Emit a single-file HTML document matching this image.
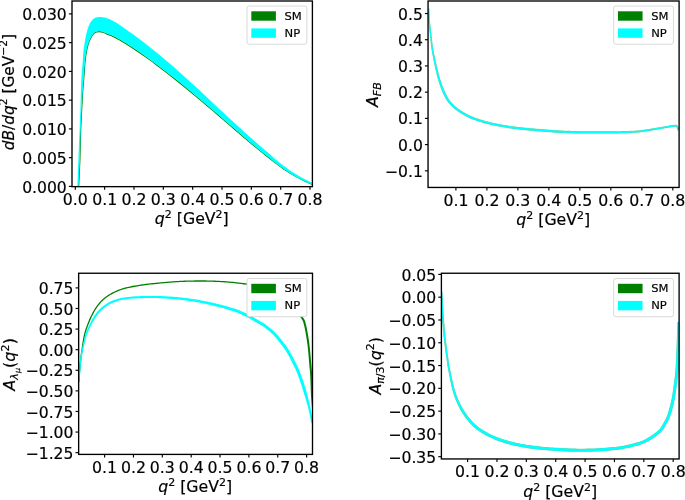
<!DOCTYPE html>
<html><head><meta charset="utf-8"><title>plots</title>
<style>html,body{margin:0;padding:0;background:#fff}svg{display:block;will-change:transform}text{stroke:#000;stroke-width:0.18px}</style>
</head><body>
<svg width="685" height="500" viewBox="0 0 685 500" font-family='"DejaVu Sans", "Liberation Sans", sans-serif' fill="#000">
<rect width="685" height="500" fill="#fff"/>
<defs>
<clipPath id="cTL"><rect x="72.00" y="1.00" width="240.40" height="185.65"/></clipPath>
<clipPath id="cTR"><rect x="428.05" y="1.00" width="251.05" height="186.45"/></clipPath>
<clipPath id="cBL"><rect x="78.65" y="273.25" width="233.85" height="181.15"/></clipPath>
<clipPath id="cBR"><rect x="441.40" y="273.25" width="237.70" height="185.70"/></clipPath>
</defs>
<g clip-path="url(#cTL)">
<path d="M78.70 186.41 C78.90 182.01 79.57 169.42 79.90 160.02 C80.23 150.62 80.40 138.36 80.70 130.03 C81.00 121.70 81.37 116.37 81.70 110.04 C82.03 103.71 82.33 97.54 82.70 92.04 C83.07 86.55 83.52 82.05 83.90 77.05 C84.28 72.06 84.67 65.76 85.00 62.06 C85.33 58.36 85.57 57.07 85.90 54.87 C86.23 52.67 86.62 50.67 87.00 48.88 C87.38 47.08 87.70 45.63 88.20 44.09 C88.70 42.54 89.38 40.95 90.00 39.60 C90.62 38.25 91.23 37.01 91.90 35.97 C92.57 34.92 93.25 34.00 94.00 33.34 C94.75 32.68 95.50 32.31 96.40 32.02 C97.30 31.74 98.30 31.58 99.40 31.63 C100.50 31.68 101.70 31.93 103.00 32.35 C104.30 32.77 105.70 33.54 107.20 34.14 C108.70 34.74 110.53 35.29 112.00 35.94 C113.47 36.59 113.67 36.73 116.00 38.03 C118.33 39.34 122.67 41.75 126.00 43.78 C129.33 45.80 132.67 47.98 136.00 50.21 C139.33 52.44 142.67 54.77 146.00 57.16 C149.33 59.55 152.67 62.05 156.00 64.55 C159.33 67.05 162.67 69.59 166.00 72.16 C169.33 74.73 172.67 77.35 176.00 79.99 C179.33 82.64 182.67 85.33 186.00 88.05 C189.33 90.77 192.67 93.54 196.00 96.32 C199.33 99.10 202.67 101.91 206.00 104.73 C209.33 107.56 212.67 110.41 216.00 113.26 C219.33 116.12 222.67 119.00 226.00 121.87 C229.33 124.74 232.67 127.62 236.00 130.48 C239.33 133.33 242.67 136.20 246.00 139.01 C249.33 141.83 252.67 144.63 256.00 147.37 C259.33 150.12 262.67 152.85 266.00 155.50 C269.33 158.15 272.67 160.76 276.00 163.25 C279.33 165.75 282.67 168.24 286.00 170.46 C289.33 172.69 292.67 174.75 296.00 176.62 C299.33 178.49 303.27 180.38 306.00 181.68 C308.73 182.97 311.33 183.93 312.40 184.38" fill="none" stroke="#008000" stroke-width="1.1"/>
<path d="M77.40 186.40 C77.57 182.00 78.03 169.40 78.40 160.00 C78.77 150.60 79.27 138.33 79.60 130.00 C79.93 121.67 80.18 116.33 80.40 110.00 C80.62 103.67 80.72 97.50 80.90 92.00 C81.08 86.50 81.20 82.00 81.50 77.00 C81.80 72.00 82.40 66.00 82.70 62.00 C83.00 58.00 83.08 55.50 83.30 53.00 C83.52 50.50 83.73 49.00 84.00 47.00 C84.27 45.00 84.55 43.00 84.90 41.00 C85.25 39.00 85.73 36.67 86.10 35.00 C86.47 33.33 86.63 32.57 87.10 31.00 C87.57 29.43 88.15 27.30 88.90 25.60 C89.65 23.90 90.55 22.10 91.60 20.80 C92.65 19.50 93.80 18.45 95.20 17.80 C96.60 17.15 98.40 16.95 100.00 16.90 C101.60 16.85 103.20 17.10 104.80 17.50 C106.40 17.90 107.73 18.45 109.60 19.30 C111.47 20.15 113.60 21.16 116.00 22.60 C118.40 24.04 121.00 25.86 124.00 27.93 C127.00 30.00 130.67 32.60 134.00 35.04 C137.33 37.48 140.67 40.00 144.00 42.57 C147.33 45.13 150.67 47.73 154.00 50.42 C157.33 53.11 160.67 55.88 164.00 58.71 C167.33 61.53 170.67 64.43 174.00 67.36 C177.33 70.29 180.67 73.27 184.00 76.26 C187.33 79.26 190.67 82.27 194.00 85.31 C197.33 88.36 200.67 91.46 204.00 94.56 C207.33 97.66 210.67 100.80 214.00 103.92 C217.33 107.03 220.67 110.17 224.00 113.27 C227.33 116.37 230.67 119.45 234.00 122.52 C237.33 125.58 240.67 128.64 244.00 131.64 C247.33 134.65 250.67 137.62 254.00 140.57 C257.33 143.51 260.67 146.44 264.00 149.32 C267.33 152.21 270.67 155.11 274.00 157.88 C277.33 160.65 280.67 163.43 284.00 165.95 C287.33 168.46 290.67 170.86 294.00 172.97 C297.33 175.09 300.93 177.00 304.00 178.63 C307.07 180.27 311.00 182.07 312.40 182.76 L312.40 184.78 C311.33 184.32 308.73 183.34 306.00 182.03 C303.27 180.71 299.33 178.79 296.00 176.89 C292.67 175.00 289.33 172.91 286.00 170.66 C282.67 168.41 279.33 165.89 276.00 163.38 C272.67 160.86 269.33 158.22 266.00 155.55 C262.67 152.88 259.33 150.12 256.00 147.35 C252.67 144.58 249.33 141.77 246.00 138.93 C242.67 136.09 239.33 133.21 236.00 130.34 C232.67 127.46 229.33 124.56 226.00 121.67 C222.67 118.78 219.33 115.88 216.00 113.00 C212.67 110.13 209.33 107.26 206.00 104.42 C202.67 101.58 199.33 98.75 196.00 95.96 C192.67 93.18 189.33 90.41 186.00 87.69 C182.67 84.96 179.33 82.27 176.00 79.62 C172.67 76.97 169.33 74.35 166.00 71.78 C162.67 69.20 159.33 66.66 156.00 64.16 C152.67 61.66 149.33 59.15 146.00 56.76 C142.67 54.37 139.33 52.03 136.00 49.80 C132.67 47.56 129.33 45.38 126.00 43.35 C122.67 41.32 118.33 38.91 116.00 37.60 C113.67 36.29 113.47 36.15 112.00 35.50 C110.53 34.85 108.70 34.30 107.20 33.70 C105.70 33.10 104.30 32.32 103.00 31.90 C101.70 31.48 100.50 31.23 99.40 31.20 C98.30 31.17 97.30 31.38 96.40 31.70 C95.50 32.02 94.75 32.42 94.00 33.10 C93.25 33.78 92.57 34.73 91.90 35.80 C91.23 36.87 90.62 38.13 90.00 39.50 C89.38 40.87 88.70 42.45 88.20 44.00 C87.70 45.55 87.38 47.00 87.00 48.80 C86.62 50.60 86.23 52.60 85.90 54.80 C85.57 57.00 85.33 58.30 85.00 62.00 C84.67 65.70 84.28 72.00 83.90 77.00 C83.52 82.00 83.07 86.50 82.70 92.00 C82.33 97.50 82.03 103.67 81.70 110.00 C81.37 116.33 81.00 121.67 80.70 130.00 C80.40 138.33 80.23 150.60 79.90 160.00 C79.57 169.40 78.90 182.00 78.70 186.40 Z" fill="#00ffff"/>
</g>
<g clip-path="url(#cTR)">
<path d="M427.68 8.64 L427.72 9.53 L427.77 10.72 L427.84 12.14 L427.91 13.71 L427.99 15.37 L428.08 17.03 L428.18 18.62 L428.28 20.06 L428.39 21.39 L428.51 22.68 L428.64 23.94 L428.77 25.18 L428.91 26.41 L429.05 27.63 L429.19 28.85 L429.33 30.09 L429.47 31.35 L429.60 32.64 L429.75 33.93 L429.89 35.22 L430.03 36.49 L430.16 37.73 L430.30 38.94 L430.43 40.09 L430.54 41.19 L430.65 42.23 L430.75 43.23 L430.85 44.21 L430.95 45.17 L431.06 46.14 L431.19 47.12 L431.32 48.13 L431.47 49.14 L431.63 50.12 L431.79 51.09 L431.96 52.07 L432.14 53.07 L432.33 54.11 L432.54 55.21 L432.77 56.39 L433.01 57.65 L433.28 58.99 L433.56 60.38 L433.85 61.82 L434.15 63.28 L434.46 64.75 L434.77 66.21 L435.09 67.63 L435.40 69.04 L435.72 70.44 L436.03 71.85 L436.36 73.25 L436.69 74.67 L437.05 76.08 L437.42 77.50 L437.82 78.92 L438.24 80.34 L438.68 81.78 L439.14 83.22 L439.62 84.67 L440.11 86.10 L440.62 87.52 L441.14 88.91 L441.68 90.26 L442.23 91.59 L442.80 92.91 L443.38 94.21 L443.98 95.50 L444.61 96.75 L445.26 97.97 L445.94 99.15 L446.66 100.29 L447.40 101.37 L448.17 102.40 L448.97 103.38 L449.79 104.32 L450.62 105.22 L451.46 106.08 L452.30 106.91 L453.15 107.72 L454.01 108.49 L454.86 109.21 L455.72 109.90 L456.60 110.55 L457.48 111.18 L458.40 111.80 L459.34 112.42 L460.33 113.05 L461.36 113.71 L462.44 114.37 L463.55 115.03 L464.70 115.69 L465.87 116.34 L467.06 116.96 L468.27 117.57 L469.49 118.14 L470.72 118.68 L471.98 119.18 L473.25 119.66 L474.53 120.12 L475.81 120.56 L477.09 120.98 L478.36 121.39 L479.62 121.79 L480.88 122.19 L482.14 122.57 L483.40 122.94 L484.66 123.30 L485.92 123.65 L487.19 123.98 L488.45 124.31 L489.71 124.62 L490.98 124.91 L492.24 125.18 L493.50 125.44 L494.76 125.69 L496.02 125.93 L497.27 126.16 L498.52 126.39 L499.77 126.63 L501.02 126.87 L502.27 127.11 L503.52 127.34 L504.77 127.58 L506.03 127.81 L507.29 128.03 L508.55 128.24 L509.81 128.44 L511.08 128.62 L512.34 128.79 L513.60 128.94 L514.86 129.09 L516.11 129.23 L517.36 129.37 L518.61 129.51 L519.86 129.64 L521.12 129.78 L522.37 129.91 L523.62 130.04 L524.88 130.17 L526.13 130.29 L527.38 130.41 L528.63 130.53 L529.89 130.65 L531.11 130.75 L532.28 130.85 L533.43 130.94 L534.59 131.03 L535.79 131.13 L537.05 131.22 L538.41 131.33 L539.90 131.45 L541.49 131.58 L543.17 131.73 L544.93 131.88 L546.77 132.05 L548.69 132.21 L550.69 132.37 L552.77 132.51 L554.93 132.65 L557.20 132.77 L559.59 132.89 L562.08 133.00 L564.64 133.10 L567.24 133.19 L569.84 133.28 L572.43 133.35 L574.97 133.41 L577.48 133.46 L579.98 133.50 L582.49 133.52 L584.99 133.54 L587.49 133.55 L589.99 133.55 L592.49 133.56 L594.99 133.56 L597.49 133.57 L599.99 133.58 L602.49 133.59 L605.00 133.59 L607.50 133.59 L610.01 133.58 L612.51 133.55 L615.02 133.51 L617.63 133.45 L620.38 133.36 L623.20 133.27 L625.98 133.16 L628.64 133.05 L631.10 132.94 L633.26 132.84 L635.05 132.76 L636.38 132.70 L637.32 132.65 L637.96 132.61 L638.42 132.57 L638.77 132.52 L639.11 132.48 L639.52 132.42 L640.13 132.34 L640.91 132.24 L641.75 132.13 L642.63 132.01 L643.53 131.87 L644.44 131.73 L645.36 131.59 L646.27 131.46 L647.15 131.32 L648.03 131.18 L648.91 131.05 L649.78 130.91 L650.66 130.77 L651.54 130.63 L652.41 130.49 L653.29 130.35 L654.16 130.20 L655.04 130.05 L655.92 129.90 L656.80 129.75 L657.67 129.60 L658.55 129.44 L659.42 129.29 L660.29 129.13 L661.17 128.98 L662.04 128.83 L662.92 128.67 L663.79 128.52 L664.67 128.37 L665.54 128.21 L666.41 128.06 L667.29 127.91 L668.16 127.76 L669.08 127.61 L670.04 127.43 L671.01 127.26 L671.98 127.09 L672.89 126.93 L673.73 126.80 L674.46 126.71 L675.06 126.66 L675.52 126.64 L675.85 126.63 L676.01 126.64 L676.02 126.64 L675.95 126.60 L675.95 126.61 L676.06 126.74 L676.21 126.93 L676.38 127.21 L676.57 127.62 L676.77 128.13 L676.97 128.70 L677.16 129.28 L677.34 129.81 L677.48 130.28 L677.60 130.61 L679.40 129.99 L679.29 129.68 L679.15 129.23 L678.98 128.69 L678.78 128.09 L678.56 127.47 L678.32 126.87 L678.07 126.31 L677.79 125.87 L677.56 125.56 L677.35 125.31 L677.06 125.05 L676.67 124.84 L676.26 124.74 L675.88 124.72 L675.46 124.72 L674.94 124.74 L674.26 124.79 L673.47 124.89 L672.59 125.02 L671.65 125.18 L670.68 125.35 L669.70 125.52 L668.74 125.68 L667.84 125.84 L666.96 125.98 L666.09 126.12 L665.21 126.27 L664.33 126.42 L663.46 126.57 L662.58 126.72 L661.71 126.87 L660.83 127.02 L659.96 127.17 L659.08 127.32 L658.20 127.47 L657.33 127.62 L656.45 127.77 L655.58 127.91 L654.71 128.06 L653.84 128.20 L652.96 128.34 L652.09 128.48 L651.21 128.62 L650.34 128.75 L649.47 128.89 L648.59 129.02 L647.72 129.15 L646.85 129.28 L645.96 129.41 L645.05 129.55 L644.13 129.68 L643.22 129.81 L642.33 129.94 L641.47 130.06 L640.65 130.17 L639.87 130.26 L639.25 130.34 L638.82 130.39 L638.50 130.44 L638.21 130.47 L637.81 130.50 L637.20 130.54 L636.28 130.58 L634.95 130.64 L633.17 130.71 L631.01 130.80 L628.56 130.90 L625.90 130.99 L623.12 131.09 L620.32 131.17 L617.58 131.24 L614.98 131.29 L612.49 131.32 L609.99 131.33 L607.50 131.33 L605.00 131.32 L602.51 131.30 L600.01 131.28 L597.51 131.26 L595.01 131.24 L592.51 131.22 L590.01 131.20 L587.51 131.19 L585.01 131.16 L582.51 131.13 L580.02 131.10 L577.52 131.05 L575.03 130.99 L572.50 130.91 L569.92 130.83 L567.33 130.73 L564.74 130.63 L562.19 130.51 L559.71 130.39 L557.33 130.27 L555.07 130.15 L552.93 130.02 L550.87 129.87 L548.89 129.72 L546.98 129.55 L545.15 129.39 L543.39 129.24 L541.71 129.09 L540.10 128.95 L538.61 128.84 L537.24 128.73 L535.98 128.63 L534.78 128.54 L533.63 128.45 L532.49 128.36 L531.32 128.26 L530.11 128.15 L528.87 128.04 L527.62 127.92 L526.37 127.80 L525.12 127.68 L523.88 127.55 L522.63 127.43 L521.38 127.29 L520.14 127.16 L518.89 127.02 L517.64 126.89 L516.39 126.75 L515.14 126.61 L513.90 126.46 L512.66 126.31 L511.42 126.14 L510.19 125.96 L508.95 125.77 L507.71 125.56 L506.47 125.35 L505.23 125.12 L503.98 124.89 L502.73 124.65 L501.48 124.41 L500.23 124.17 L498.98 123.94 L497.73 123.70 L496.48 123.47 L495.24 123.24 L494.00 122.99 L492.76 122.74 L491.52 122.47 L490.29 122.18 L489.05 121.88 L487.81 121.57 L486.58 121.24 L485.34 120.90 L484.10 120.54 L482.86 120.18 L481.62 119.80 L480.38 119.41 L479.13 119.01 L477.86 118.60 L476.60 118.18 L475.35 117.76 L474.11 117.31 L472.88 116.85 L471.68 116.37 L470.51 115.86 L469.36 115.32 L468.20 114.74 L467.06 114.14 L465.93 113.51 L464.82 112.87 L463.73 112.23 L462.68 111.58 L461.67 110.95 L460.71 110.33 L459.79 109.72 L458.91 109.13 L458.07 108.53 L457.25 107.92 L456.45 107.28 L455.65 106.61 L454.85 105.88 L454.04 105.11 L453.23 104.32 L452.43 103.50 L451.65 102.65 L450.89 101.77 L450.15 100.86 L449.43 99.91 L448.74 98.91 L448.08 97.86 L447.45 96.76 L446.83 95.60 L446.22 94.40 L445.63 93.17 L445.05 91.91 L444.48 90.63 L443.92 89.34 L443.37 88.02 L442.84 86.68 L442.32 85.30 L441.82 83.91 L441.34 82.50 L440.87 81.08 L440.41 79.68 L439.98 78.28 L439.57 76.90 L439.18 75.52 L438.81 74.13 L438.46 72.75 L438.11 71.35 L437.78 69.96 L437.44 68.56 L437.11 67.17 L436.78 65.75 L436.44 64.31 L436.11 62.86 L435.79 61.41 L435.48 59.98 L435.18 58.59 L434.89 57.26 L434.63 56.01 L434.39 54.85 L434.16 53.75 L433.96 52.72 L433.76 51.73 L433.58 50.77 L433.40 49.81 L433.24 48.85 L433.08 47.87 L432.93 46.88 L432.79 45.92 L432.67 44.97 L432.55 44.02 L432.44 43.05 L432.32 42.05 L432.20 41.00 L432.07 39.91 L431.94 38.75 L431.80 37.55 L431.67 36.31 L431.53 35.03 L431.39 33.75 L431.25 32.46 L431.11 31.18 L430.97 29.91 L430.83 28.67 L430.69 27.44 L430.55 26.22 L430.41 25.00 L430.28 23.77 L430.15 22.52 L430.03 21.24 L429.92 19.94 L429.82 18.51 L429.73 16.93 L429.64 15.28 L429.56 13.64 L429.49 12.06 L429.42 10.64 L429.37 9.45 L429.32 8.56 Z" fill="#008000" fill-opacity="0.45"/>
<path d="M427.93 8.63 L427.97 9.52 L428.02 10.71 L428.09 12.13 L428.16 13.70 L428.24 15.36 L428.33 17.01 L428.43 18.60 L428.53 20.04 L428.64 21.37 L428.76 22.65 L428.89 23.91 L429.02 25.15 L429.16 26.38 L429.30 27.60 L429.44 28.82 L429.58 30.06 L429.71 31.33 L429.85 32.61 L429.99 33.90 L430.13 35.19 L430.27 36.46 L430.41 37.70 L430.55 38.91 L430.68 40.06 L430.79 41.16 L430.90 42.20 L431.00 43.20 L431.10 44.18 L431.20 45.15 L431.31 46.11 L431.43 47.09 L431.57 48.09 L431.72 49.10 L431.87 50.07 L432.03 51.04 L432.20 52.02 L432.38 53.02 L432.58 54.07 L432.79 55.17 L433.01 56.34 L433.26 57.60 L433.52 58.93 L433.80 60.33 L434.09 61.77 L434.39 63.23 L434.70 64.69 L435.02 66.15 L435.33 67.58 L435.65 68.98 L435.96 70.38 L436.28 71.79 L436.60 73.20 L436.94 74.61 L437.29 76.02 L437.66 77.43 L438.06 78.85 L438.48 80.27 L438.92 81.70 L439.38 83.15 L439.85 84.59 L440.34 86.02 L440.85 87.43 L441.37 88.82 L441.91 90.17 L442.46 91.49 L443.03 92.81 L443.60 94.11 L444.20 95.39 L444.83 96.64 L445.48 97.85 L446.16 99.03 L446.86 100.15 L447.60 101.22 L448.37 102.24 L449.16 103.22 L449.97 104.15 L450.80 105.05 L451.63 105.91 L452.48 106.73 L453.32 107.53 L454.17 108.30 L455.02 109.02 L455.88 109.70 L456.74 110.35 L457.63 110.97 L458.54 111.59 L459.48 112.21 L460.46 112.84 L461.49 113.49 L462.57 114.15 L463.68 114.81 L464.82 115.47 L465.99 116.12 L467.18 116.74 L468.38 117.34 L469.59 117.91 L470.82 118.44 L472.07 118.95 L473.33 119.43 L474.61 119.88 L475.89 120.32 L477.17 120.74 L478.44 121.15 L479.70 121.55 L480.95 121.95 L482.21 122.33 L483.47 122.70 L484.73 123.06 L485.99 123.41 L487.25 123.74 L488.51 124.06 L489.77 124.37 L491.03 124.67 L492.29 124.94 L493.55 125.20 L494.81 125.44 L496.07 125.68 L497.32 125.92 L498.57 126.15 L499.81 126.38 L501.06 126.62 L502.31 126.86 L503.56 127.10 L504.82 127.33 L506.07 127.56 L507.33 127.78 L508.59 127.99 L509.85 128.19 L511.11 128.37 L512.37 128.54 L513.63 128.70 L514.89 128.84 L516.14 128.98 L517.39 129.12 L518.64 129.26 L519.89 129.39 L521.14 129.53 L522.40 129.66 L523.65 129.79 L524.90 129.92 L526.15 130.04 L527.41 130.16 L528.66 130.28 L529.91 130.40 L531.13 130.50 L532.30 130.60 L533.45 130.69 L534.61 130.78 L535.81 130.88 L537.07 130.97 L538.43 131.08 L539.92 131.20 L541.52 131.33 L543.19 131.48 L544.95 131.63 L546.79 131.80 L548.71 131.96 L550.71 132.12 L552.79 132.26 L554.94 132.40 L557.21 132.52 L559.60 132.64 L562.09 132.75 L564.65 132.85 L567.24 132.94 L569.85 133.03 L572.44 133.10 L574.98 133.16 L577.48 133.21 L579.99 133.25 L582.49 133.27 L584.99 133.29 L587.49 133.30 L590.00 133.30 L592.50 133.31 L595.00 133.31 L597.49 133.32 L599.99 133.33 L602.50 133.34 L605.00 133.34 L607.50 133.34 L610.00 133.33 L612.51 133.30 L615.02 133.26 L617.62 133.20 L620.38 133.11 L623.19 133.02 L625.97 132.91 L628.63 132.80 L631.09 132.69 L633.25 132.59 L635.04 132.51 L636.37 132.45 L637.30 132.40 L637.94 132.36 L638.39 132.32 L638.74 132.28 L639.07 132.23 L639.49 132.17 L640.10 132.09 L640.88 131.99 L641.72 131.88 L642.59 131.76 L643.49 131.63 L644.40 131.49 L645.32 131.35 L646.23 131.21 L647.12 131.07 L647.99 130.94 L648.87 130.80 L649.74 130.66 L650.62 130.52 L651.50 130.38 L652.37 130.24 L653.25 130.10 L654.12 129.95 L655.00 129.81 L655.88 129.65 L656.75 129.50 L657.63 129.35 L658.50 129.20 L659.38 129.04 L660.25 128.89 L661.13 128.73 L662.00 128.58 L662.88 128.43 L663.75 128.27 L664.63 128.12 L665.50 127.97 L666.37 127.81 L667.25 127.67 L668.12 127.52 L669.03 127.36 L669.99 127.19 L670.97 127.01 L671.93 126.84 L672.85 126.68 L673.70 126.55 L674.44 126.46 L675.04 126.41 L675.51 126.39 L675.85 126.38 L676.04 126.39 L676.10 126.40 L676.10 126.40 L676.14 126.44 L676.25 126.58 L676.42 126.79 L676.60 127.09 L676.80 127.52 L677.01 128.05 L677.21 128.62 L677.40 129.20 L677.57 129.74 L677.72 130.20 L677.84 130.53 L679.16 130.07 L679.05 129.76 L678.91 129.31 L678.74 128.77 L678.54 128.17 L678.32 127.55 L678.09 126.97 L677.84 126.43 L677.58 126.01 L677.36 125.71 L677.17 125.48 L676.92 125.25 L676.59 125.07 L676.23 124.99 L675.87 124.97 L675.47 124.97 L674.96 124.99 L674.29 125.04 L673.50 125.14 L672.63 125.27 L671.69 125.42 L670.72 125.59 L669.74 125.76 L668.79 125.93 L667.88 126.08 L667.00 126.23 L666.13 126.37 L665.25 126.52 L664.37 126.67 L663.50 126.82 L662.62 126.97 L661.75 127.12 L660.87 127.27 L660.00 127.41 L659.12 127.56 L658.25 127.71 L657.37 127.86 L656.50 128.01 L655.62 128.16 L654.75 128.30 L653.88 128.45 L653.00 128.59 L652.13 128.73 L651.25 128.86 L650.38 129.00 L649.51 129.13 L648.63 129.27 L647.76 129.40 L646.88 129.53 L645.99 129.66 L645.09 129.79 L644.17 129.93 L643.26 130.06 L642.37 130.19 L641.50 130.31 L640.68 130.41 L639.90 130.51 L639.28 130.58 L638.85 130.64 L638.54 130.69 L638.23 130.72 L637.83 130.75 L637.21 130.79 L636.29 130.83 L634.96 130.89 L633.18 130.96 L631.02 131.05 L628.57 131.14 L625.91 131.24 L623.13 131.34 L620.33 131.42 L617.58 131.49 L614.98 131.54 L612.49 131.57 L610.00 131.58 L607.50 131.58 L605.00 131.57 L602.50 131.55 L600.01 131.53 L597.51 131.51 L595.00 131.49 L592.50 131.47 L590.00 131.45 L587.51 131.44 L585.01 131.41 L582.51 131.38 L580.01 131.35 L577.52 131.30 L575.02 131.24 L572.49 131.16 L569.91 131.08 L567.32 130.98 L564.73 130.88 L562.18 130.76 L559.70 130.64 L557.31 130.52 L555.06 130.40 L552.92 130.27 L550.86 130.12 L548.87 129.97 L546.96 129.80 L545.13 129.64 L543.37 129.49 L541.69 129.34 L540.08 129.20 L538.59 129.09 L537.23 128.98 L535.96 128.88 L534.76 128.79 L533.61 128.70 L532.46 128.61 L531.30 128.51 L530.09 128.40 L528.84 128.29 L527.59 128.17 L526.35 128.05 L525.10 127.93 L523.85 127.80 L522.60 127.67 L521.36 127.54 L520.11 127.41 L518.86 127.27 L517.61 127.13 L516.36 127.00 L515.11 126.86 L513.87 126.71 L512.63 126.56 L511.39 126.39 L510.15 126.21 L508.91 126.02 L507.67 125.81 L506.43 125.59 L505.18 125.37 L503.94 125.13 L502.69 124.90 L501.44 124.66 L500.19 124.42 L498.93 124.18 L497.68 123.95 L496.43 123.72 L495.19 123.48 L493.95 123.24 L492.71 122.98 L491.47 122.71 L490.23 122.43 L488.99 122.12 L487.75 121.81 L486.51 121.48 L485.27 121.14 L484.03 120.78 L482.79 120.42 L481.55 120.04 L480.30 119.65 L479.05 119.25 L477.79 118.84 L476.52 118.42 L475.27 117.99 L474.02 117.55 L472.79 117.09 L471.59 116.60 L470.41 116.09 L469.25 115.54 L468.09 114.96 L466.94 114.36 L465.80 113.73 L464.69 113.09 L463.60 112.44 L462.55 111.79 L461.54 111.16 L460.57 110.53 L459.65 109.93 L458.77 109.33 L457.92 108.73 L457.10 108.11 L456.29 107.47 L455.49 106.79 L454.68 106.07 L453.86 105.29 L453.05 104.50 L452.25 103.67 L451.46 102.82 L450.70 101.94 L449.95 101.01 L449.23 100.05 L448.54 99.05 L447.87 97.99 L447.23 96.88 L446.60 95.72 L446.00 94.51 L445.40 93.28 L444.82 92.01 L444.25 90.73 L443.69 89.43 L443.14 88.12 L442.61 86.77 L442.09 85.39 L441.59 83.99 L441.10 82.58 L440.63 81.16 L440.17 79.75 L439.74 78.35 L439.32 76.97 L438.94 75.58 L438.57 74.19 L438.21 72.80 L437.87 71.41 L437.53 70.02 L437.20 68.62 L436.87 67.22 L436.53 65.81 L436.20 64.36 L435.87 62.91 L435.54 61.46 L435.23 60.03 L434.93 58.64 L434.65 57.31 L434.39 56.06 L434.14 54.90 L433.92 53.80 L433.71 52.77 L433.52 51.78 L433.33 50.81 L433.16 49.86 L432.99 48.89 L432.83 47.91 L432.68 46.92 L432.54 45.95 L432.42 45.00 L432.30 44.04 L432.19 43.07 L432.07 42.07 L431.95 41.03 L431.82 39.94 L431.69 38.78 L431.56 37.58 L431.42 36.33 L431.28 35.06 L431.14 33.78 L431.00 32.48 L430.86 31.20 L430.72 29.94 L430.58 28.70 L430.44 27.47 L430.30 26.25 L430.17 25.02 L430.03 23.79 L429.90 22.54 L429.78 21.27 L429.67 19.96 L429.57 18.53 L429.48 16.95 L429.39 15.30 L429.31 13.65 L429.24 12.08 L429.17 10.66 L429.12 9.46 L429.07 8.57 Z" fill="#00ffff"/>
</g>
<g clip-path="url(#cBL)">
<path d="M79.45 382.05 L79.51 381.20 L79.59 380.07 L79.68 378.73 L79.78 377.23 L79.89 375.66 L80.01 374.06 L80.13 372.50 L80.25 371.06 L80.37 369.68 L80.50 368.29 L80.63 366.89 L80.77 365.50 L80.91 364.12 L81.05 362.75 L81.20 361.40 L81.35 360.07 L81.49 358.81 L81.63 357.63 L81.76 356.49 L81.90 355.36 L82.05 354.19 L82.22 352.95 L82.42 351.60 L82.64 350.10 L82.90 348.40 L83.18 346.51 L83.49 344.50 L83.81 342.43 L84.15 340.35 L84.50 338.34 L84.86 336.45 L85.23 334.75 L85.61 333.21 L86.01 331.78 L86.43 330.44 L86.85 329.17 L87.29 327.96 L87.73 326.77 L88.17 325.60 L88.61 324.43 L89.04 323.29 L89.46 322.20 L89.88 321.15 L90.31 320.13 L90.75 319.13 L91.20 318.13 L91.68 317.12 L92.18 316.09 L92.71 315.04 L93.26 313.97 L93.83 312.91 L94.42 311.84 L95.02 310.79 L95.64 309.76 L96.28 308.75 L96.94 307.77 L97.61 306.81 L98.31 305.86 L99.02 304.93 L99.75 304.03 L100.50 303.14 L101.27 302.29 L102.05 301.46 L102.85 300.67 L103.67 299.92 L104.50 299.19 L105.36 298.50 L106.24 297.83 L107.13 297.19 L108.05 296.56 L108.98 295.95 L109.94 295.35 L110.91 294.77 L111.90 294.21 L112.91 293.66 L113.94 293.13 L114.99 292.62 L116.05 292.13 L117.14 291.66 L118.24 291.20 L119.36 290.77 L120.50 290.36 L121.66 289.96 L122.84 289.58 L124.04 289.22 L125.26 288.88 L126.50 288.55 L127.75 288.23 L129.04 287.93 L130.37 287.65 L131.73 287.39 L133.11 287.14 L134.49 286.90 L135.86 286.68 L137.20 286.46 L138.51 286.24 L139.77 286.03 L141.02 285.84 L142.25 285.65 L143.47 285.47 L144.66 285.30 L145.83 285.14 L146.97 284.99 L148.08 284.85 L149.16 284.72 L150.23 284.60 L151.27 284.49 L152.29 284.40 L153.28 284.31 L154.24 284.22 L155.17 284.13 L156.06 284.05 L156.87 283.96 L157.57 283.89 L158.20 283.82 L158.82 283.76 L159.46 283.69 L160.19 283.62 L161.04 283.54 L162.06 283.45 L163.27 283.34 L164.64 283.22 L166.12 283.08 L167.68 282.95 L169.29 282.81 L170.91 282.68 L172.51 282.56 L174.04 282.45 L175.54 282.35 L177.04 282.26 L178.54 282.18 L180.03 282.10 L181.53 282.03 L183.03 281.96 L184.52 281.90 L186.02 281.85 L187.52 281.80 L189.02 281.76 L190.51 281.73 L192.01 281.71 L193.51 281.69 L195.01 281.67 L196.50 281.66 L198.00 281.65 L199.50 281.65 L201.00 281.64 L202.50 281.65 L204.00 281.66 L205.49 281.67 L206.99 281.69 L208.49 281.72 L209.98 281.75 L211.51 281.79 L213.07 281.84 L214.65 281.90 L216.22 281.97 L217.76 282.04 L219.25 282.11 L220.66 282.18 L221.96 282.25 L223.16 282.32 L224.26 282.39 L225.29 282.46 L226.26 282.54 L227.20 282.61 L228.11 282.69 L229.02 282.77 L229.94 282.85 L230.85 282.93 L231.70 283.00 L232.52 283.08 L233.34 283.15 L234.16 283.24 L235.02 283.33 L235.93 283.43 L236.92 283.55 L237.97 283.67 L239.05 283.79 L240.17 283.92 L241.32 284.06 L242.52 284.22 L243.78 284.40 L245.10 284.60 L246.49 284.84 L247.97 285.10 L249.53 285.37 L251.16 285.67 L252.83 286.00 L254.55 286.35 L256.29 286.75 L258.04 287.20 L259.80 287.69 L261.59 288.23 L263.42 288.79 L265.27 289.39 L267.15 290.03 L269.03 290.72 L270.91 291.48 L272.77 292.32 L274.63 293.24 L276.50 294.24 L278.40 295.30 L280.30 296.42 L282.20 297.61 L284.07 298.88 L285.90 300.23 L287.67 301.66 L289.36 303.18 L291.04 304.88 L292.74 306.81 L294.44 308.89 L296.08 311.03 L297.64 313.15 L299.06 315.17 L300.32 317.00 L301.36 318.55 L302.15 319.78 L302.69 320.74 L303.05 321.50 L303.28 322.15 L303.45 322.77 L303.60 323.45 L303.78 324.27 L304.03 325.25 L304.32 326.35 L304.59 327.51 L304.85 328.73 L305.10 330.00 L305.34 331.30 L305.57 332.60 L305.79 333.90 L306.01 335.17 L306.23 336.42 L306.43 337.66 L306.63 338.90 L306.82 340.15 L307.01 341.39 L307.18 342.64 L307.35 343.88 L307.51 345.12 L307.66 346.37 L307.80 347.61 L307.93 348.86 L308.05 350.11 L308.17 351.36 L308.28 352.61 L308.39 353.85 L308.50 355.09 L308.61 356.32 L308.72 357.54 L308.82 358.76 L308.92 359.97 L309.01 361.18 L309.11 362.39 L309.20 363.59 L309.30 364.79 L309.41 365.94 L309.51 367.04 L309.61 368.11 L309.72 369.18 L309.82 370.27 L309.92 371.43 L310.01 372.69 L310.10 374.06 L310.19 375.58 L310.27 377.22 L310.35 378.95 L310.43 380.75 L310.50 382.58 L310.57 384.43 L310.64 386.25 L310.70 388.04 L310.76 389.78 L310.82 391.53 L310.87 393.28 L310.92 395.03 L311.07 396.77 L311.22 398.52 L311.37 400.27 L311.52 402.01 L311.67 403.76 L311.81 405.51 L311.95 407.26 L312.10 409.00 L312.19 410.75 L312.23 412.50 L312.26 414.25 L312.30 416.00 L312.34 417.85 L312.38 419.83 L312.43 421.87 L312.47 423.88 L312.51 425.78 L312.55 427.49 L312.58 428.92 L312.60 430.00 L312.80 430.00 L312.78 428.92 L312.75 427.48 L312.71 425.77 L312.67 423.87 L312.63 421.86 L312.58 419.83 L312.54 417.84 L312.50 416.00 L312.46 414.25 L312.43 412.50 L312.39 410.75 L312.42 409.00 L312.48 407.24 L312.55 405.49 L312.62 403.74 L312.68 401.99 L312.74 400.23 L312.80 398.48 L312.86 396.73 L312.92 394.97 L312.87 393.22 L312.82 391.47 L312.76 389.72 L312.70 387.96 L312.64 386.18 L312.57 384.35 L312.50 382.50 L312.42 380.67 L312.35 378.86 L312.27 377.12 L312.18 375.47 L312.10 373.94 L312.01 372.55 L311.91 371.27 L311.81 370.10 L311.71 368.99 L311.60 367.91 L311.50 366.85 L311.40 365.76 L311.30 364.61 L311.20 363.43 L311.10 362.23 L311.01 361.03 L310.91 359.81 L310.81 358.60 L310.71 357.37 L310.61 356.14 L310.50 354.91 L310.38 353.67 L310.27 352.43 L310.16 351.18 L310.04 349.92 L309.92 348.66 L309.78 347.40 L309.64 346.14 L309.49 344.88 L309.33 343.62 L309.16 342.36 L308.99 341.11 L308.80 339.85 L308.61 338.60 L308.41 337.34 L308.20 336.08 L307.99 334.83 L307.76 333.56 L307.54 332.26 L307.31 330.94 L307.06 329.63 L306.81 328.33 L306.54 327.07 L306.26 325.87 L305.97 324.75 L305.72 323.81 L305.55 323.02 L305.39 322.29 L305.19 321.54 L304.90 320.73 L304.47 319.81 L303.86 318.74 L303.04 317.45 L301.97 315.87 L300.69 314.02 L299.24 311.99 L297.64 309.85 L295.95 307.68 L294.19 305.57 L292.41 303.59 L290.64 301.82 L288.85 300.25 L287.00 298.79 L285.09 297.42 L283.15 296.14 L281.19 294.94 L279.24 293.81 L277.29 292.76 L275.37 291.76 L273.46 290.84 L271.52 290.01 L269.58 289.26 L267.65 288.57 L265.74 287.95 L263.86 287.37 L262.01 286.83 L260.20 286.31 L258.40 285.83 L256.61 285.40 L254.83 285.02 L253.09 284.68 L251.39 284.37 L249.76 284.09 L248.19 283.82 L246.71 283.56 L245.30 283.32 L243.97 283.11 L242.70 282.93 L241.48 282.77 L240.32 282.63 L239.20 282.50 L238.12 282.38 L237.08 282.25 L236.08 282.14 L235.16 282.03 L234.30 281.94 L233.46 281.86 L232.64 281.78 L231.82 281.71 L230.96 281.63 L230.06 281.55 L229.13 281.47 L228.22 281.39 L227.30 281.32 L226.36 281.24 L225.38 281.17 L224.35 281.09 L223.24 281.02 L222.04 280.95 L220.73 280.88 L219.31 280.81 L217.82 280.74 L216.28 280.67 L214.70 280.60 L213.12 280.54 L211.55 280.49 L210.02 280.45 L208.51 280.42 L207.01 280.39 L205.51 280.37 L204.00 280.36 L202.50 280.35 L201.00 280.34 L199.50 280.35 L198.00 280.35 L196.50 280.36 L194.99 280.37 L193.49 280.39 L191.99 280.41 L190.49 280.43 L188.98 280.47 L187.48 280.50 L185.98 280.55 L184.48 280.60 L182.97 280.66 L181.47 280.73 L179.97 280.80 L178.46 280.88 L176.96 280.96 L175.46 281.05 L173.96 281.15 L172.41 281.26 L170.81 281.38 L169.18 281.52 L167.57 281.65 L166.00 281.79 L164.52 281.92 L163.15 282.04 L161.94 282.15 L160.92 282.25 L160.06 282.33 L159.33 282.40 L158.68 282.47 L158.06 282.53 L157.43 282.60 L156.74 282.67 L155.94 282.75 L155.05 282.84 L154.12 282.92 L153.16 283.01 L152.16 283.10 L151.14 283.20 L150.09 283.31 L149.02 283.42 L147.92 283.55 L146.80 283.70 L145.65 283.85 L144.48 284.01 L143.28 284.18 L142.06 284.36 L140.82 284.55 L139.56 284.75 L138.29 284.96 L136.99 285.17 L135.65 285.39 L134.28 285.62 L132.89 285.86 L131.50 286.11 L130.12 286.38 L128.76 286.66 L127.45 286.97 L126.17 287.29 L124.92 287.62 L123.68 287.98 L122.46 288.34 L121.26 288.73 L120.07 289.13 L118.91 289.55 L117.76 290.00 L116.63 290.46 L115.52 290.94 L114.43 291.45 L113.36 291.97 L112.31 292.51 L111.27 293.07 L110.26 293.65 L109.26 294.25 L108.28 294.86 L107.33 295.48 L106.39 296.13 L105.46 296.79 L104.56 297.48 L103.67 298.20 L102.80 298.95 L101.95 299.73 L101.12 300.55 L100.31 301.40 L99.52 302.29 L98.75 303.20 L98.00 304.13 L97.27 305.08 L96.56 306.05 L95.86 307.03 L95.19 308.04 L94.53 309.07 L93.90 310.13 L93.28 311.21 L92.69 312.29 L92.11 313.37 L91.56 314.45 L91.02 315.51 L90.51 316.55 L90.02 317.58 L89.56 318.60 L89.11 319.62 L88.68 320.66 L88.25 321.72 L87.83 322.82 L87.39 323.97 L86.95 325.14 L86.51 326.31 L86.06 327.51 L85.62 328.75 L85.19 330.05 L84.77 331.42 L84.36 332.88 L83.97 334.45 L83.59 336.19 L83.22 338.11 L82.87 340.14 L82.53 342.22 L82.20 344.30 L81.90 346.32 L81.61 348.20 L81.36 349.90 L81.13 351.41 L80.94 352.77 L80.76 354.02 L80.61 355.19 L80.47 356.34 L80.33 357.48 L80.20 358.66 L80.05 359.93 L79.90 361.26 L79.76 362.61 L79.61 363.98 L79.47 365.37 L79.33 366.77 L79.20 368.17 L79.07 369.56 L78.95 370.94 L78.83 372.40 L78.71 373.96 L78.59 375.56 L78.48 377.14 L78.38 378.64 L78.29 379.98 L78.21 381.11 L78.15 381.95 Z" fill="#008000"/>
<path d="M79.55 382.05 L79.61 381.20 L79.68 380.07 L79.78 378.73 L79.88 377.24 L79.99 375.66 L80.11 374.06 L80.23 372.51 L80.35 371.06 L80.47 369.68 L80.59 368.29 L80.71 366.90 L80.84 365.51 L80.98 364.13 L81.12 362.76 L81.28 361.42 L81.44 360.10 L81.61 358.84 L81.78 357.66 L81.94 356.53 L82.12 355.40 L82.32 354.23 L82.55 353.00 L82.82 351.65 L83.13 350.16 L83.51 348.45 L83.93 346.55 L84.40 344.52 L84.89 342.43 L85.40 340.34 L85.94 338.34 L86.47 336.48 L86.98 334.84 L87.47 333.41 L87.96 332.12 L88.45 330.94 L88.94 329.85 L89.44 328.81 L89.93 327.81 L90.43 326.81 L90.93 325.80 L91.42 324.81 L91.90 323.87 L92.37 322.97 L92.85 322.10 L93.33 321.25 L93.82 320.41 L94.33 319.58 L94.86 318.74 L95.41 317.89 L95.97 317.05 L96.54 316.22 L97.12 315.40 L97.71 314.59 L98.32 313.80 L98.94 313.04 L99.58 312.30 L100.25 311.58 L100.93 310.88 L101.63 310.20 L102.35 309.53 L103.09 308.88 L103.85 308.25 L104.62 307.64 L105.42 307.05 L106.23 306.47 L107.07 305.91 L107.92 305.36 L108.78 304.84 L109.67 304.33 L110.57 303.85 L111.49 303.39 L112.42 302.96 L113.38 302.56 L114.36 302.17 L115.35 301.82 L116.37 301.48 L117.40 301.17 L118.46 300.87 L119.54 300.59 L120.64 300.32 L121.76 300.08 L122.91 299.85 L124.08 299.65 L125.28 299.46 L126.49 299.28 L127.70 299.13 L128.91 298.98 L130.11 298.84 L131.30 298.72 L132.51 298.62 L133.72 298.54 L134.93 298.47 L136.14 298.40 L137.33 298.35 L138.50 298.30 L139.64 298.25 L140.75 298.20 L141.83 298.17 L142.88 298.14 L143.92 298.11 L144.95 298.09 L145.97 298.08 L146.99 298.06 L148.01 298.05 L149.04 298.04 L150.08 298.03 L151.12 298.03 L152.15 298.03 L153.16 298.04 L154.14 298.05 L155.09 298.06 L155.99 298.08 L156.79 298.09 L157.48 298.11 L158.11 298.12 L158.72 298.14 L159.36 298.16 L160.07 298.20 L160.92 298.24 L161.94 298.30 L163.15 298.38 L164.51 298.46 L165.99 298.55 L167.55 298.66 L169.16 298.77 L170.78 298.89 L172.37 299.02 L173.90 299.15 L175.39 299.29 L176.89 299.44 L178.38 299.60 L179.87 299.77 L181.37 299.94 L182.86 300.12 L184.35 300.31 L185.85 300.50 L187.34 300.70 L188.83 300.91 L190.32 301.13 L191.82 301.36 L193.31 301.59 L194.80 301.83 L196.29 302.08 L197.78 302.35 L199.27 302.62 L200.76 302.90 L202.25 303.20 L203.75 303.50 L205.24 303.81 L206.73 304.13 L208.22 304.46 L209.71 304.79 L211.23 305.14 L212.79 305.50 L214.37 305.88 L215.93 306.26 L217.47 306.64 L218.95 307.02 L220.35 307.38 L221.65 307.73 L222.83 308.05 L223.92 308.37 L224.94 308.68 L225.90 308.97 L226.83 309.27 L227.74 309.56 L228.66 309.85 L229.59 310.15 L230.50 310.42 L231.33 310.66 L232.10 310.87 L232.86 311.08 L233.63 311.31 L234.46 311.59 L235.39 311.92 L236.47 312.34 L237.74 312.87 L239.21 313.50 L240.81 314.21 L242.46 314.95 L244.10 315.71 L245.67 316.44 L247.11 317.13 L248.33 317.74 L249.31 318.24 L250.09 318.67 L250.73 319.06 L251.31 319.42 L251.90 319.81 L252.54 320.23 L253.30 320.72 L254.23 321.29 L255.31 321.92 L256.48 322.58 L257.72 323.27 L259.01 324.00 L260.31 324.75 L261.61 325.54 L262.89 326.36 L264.13 327.22 L265.36 328.12 L266.59 329.05 L267.82 330.00 L269.04 331.00 L270.26 332.04 L271.48 333.13 L272.70 334.30 L273.91 335.53 L275.16 336.90 L276.47 338.42 L277.80 340.04 L279.13 341.71 L280.43 343.38 L281.65 345.00 L282.78 346.52 L283.79 347.88 L284.65 349.09 L285.41 350.21 L286.08 351.26 L286.68 352.24 L287.22 353.17 L287.73 354.06 L288.22 354.92 L288.70 355.75 L289.12 356.48 L289.45 357.07 L289.73 357.58 L289.97 358.06 L290.22 358.57 L290.50 359.14 L290.84 359.83 L291.26 360.67 L291.76 361.67 L292.32 362.76 L292.93 363.94 L293.56 365.19 L294.20 366.47 L294.84 367.78 L295.45 369.10 L296.02 370.39 L296.57 371.70 L297.11 373.05 L297.65 374.43 L298.17 375.83 L298.69 377.25 L299.20 378.67 L299.70 380.08 L300.18 381.49 L300.65 382.87 L301.10 384.23 L301.53 385.59 L301.96 386.96 L302.38 388.33 L302.80 389.73 L303.24 391.15 L303.70 392.61 L304.18 394.13 L304.67 395.70 L305.17 397.32 L305.66 398.94 L306.15 400.56 L306.61 402.14 L307.04 403.66 L307.44 405.09 L307.80 406.44 L308.13 407.73 L308.43 408.98 L308.72 410.19 L308.98 411.36 L309.24 412.52 L309.48 413.65 L309.72 414.78 L309.96 415.95 L310.20 417.15 L310.43 418.37 L310.65 419.55 L310.85 420.66 L311.02 421.66 L311.17 422.49 L311.29 423.13 L312.91 422.87 L312.82 422.23 L312.71 421.39 L312.57 420.39 L312.41 419.27 L312.24 418.07 L312.06 416.84 L311.87 415.60 L311.68 414.42 L311.48 413.27 L311.28 412.11 L311.07 410.94 L310.85 409.74 L310.61 408.50 L310.35 407.23 L310.07 405.90 L309.76 404.51 L309.42 403.04 L309.04 401.49 L308.63 399.88 L308.21 398.23 L307.78 396.57 L307.34 394.93 L306.91 393.33 L306.50 391.79 L306.09 390.31 L305.68 388.87 L305.25 387.46 L304.83 386.07 L304.39 384.69 L303.95 383.30 L303.49 381.92 L303.02 380.51 L302.53 379.10 L302.03 377.67 L301.51 376.23 L300.99 374.79 L300.45 373.36 L299.90 371.95 L299.35 370.56 L298.78 369.21 L298.18 367.85 L297.55 366.49 L296.89 365.15 L296.24 363.84 L295.60 362.58 L294.99 361.40 L294.44 360.30 L293.94 359.33 L293.53 358.50 L293.20 357.82 L292.92 357.24 L292.65 356.71 L292.38 356.19 L292.08 355.63 L291.73 354.99 L291.30 354.25 L290.83 353.43 L290.34 352.57 L289.82 351.66 L289.25 350.70 L288.62 349.66 L287.91 348.56 L287.11 347.38 L286.21 346.12 L285.19 344.73 L284.05 343.20 L282.81 341.55 L281.49 339.86 L280.14 338.15 L278.76 336.48 L277.41 334.91 L276.09 333.47 L274.80 332.16 L273.52 330.94 L272.24 329.78 L270.96 328.69 L269.68 327.65 L268.41 326.66 L267.14 325.71 L265.87 324.78 L264.56 323.87 L263.20 323.00 L261.84 322.17 L260.49 321.39 L259.19 320.66 L257.95 319.96 L256.80 319.32 L255.77 318.71 L254.90 318.18 L254.18 317.71 L253.54 317.30 L252.94 316.90 L252.30 316.50 L251.57 316.07 L250.71 315.59 L249.67 315.06 L248.40 314.45 L246.93 313.76 L245.34 313.02 L243.67 312.27 L241.99 311.53 L240.37 310.83 L238.86 310.20 L237.53 309.66 L236.39 309.23 L235.38 308.87 L234.47 308.58 L233.64 308.34 L232.85 308.13 L232.08 307.92 L231.28 307.70 L230.41 307.45 L229.49 307.17 L228.59 306.89 L227.67 306.60 L226.72 306.31 L225.74 306.02 L224.69 305.71 L223.57 305.40 L222.35 305.07 L221.03 304.73 L219.61 304.38 L218.12 304.01 L216.57 303.64 L214.99 303.27 L213.40 302.90 L211.82 302.55 L210.29 302.21 L208.78 301.89 L207.27 301.57 L205.76 301.26 L204.25 300.96 L202.75 300.67 L201.24 300.39 L199.73 300.12 L198.22 299.85 L196.71 299.60 L195.20 299.36 L193.69 299.13 L192.18 298.91 L190.68 298.69 L189.17 298.49 L187.66 298.29 L186.15 298.10 L184.65 297.91 L183.14 297.74 L181.63 297.57 L180.13 297.41 L178.62 297.26 L177.11 297.11 L175.61 296.98 L174.10 296.85 L172.55 296.72 L170.94 296.61 L169.31 296.50 L167.70 296.40 L166.13 296.31 L164.64 296.23 L163.28 296.16 L162.06 296.10 L161.03 296.05 L160.18 296.01 L159.44 295.98 L158.78 295.96 L158.16 295.95 L157.52 295.94 L156.82 295.93 L156.01 295.92 L155.11 295.92 L154.16 295.91 L153.17 295.91 L152.15 295.92 L151.11 295.92 L150.07 295.93 L149.02 295.94 L147.99 295.95 L146.96 295.96 L145.94 295.98 L144.91 295.99 L143.88 296.01 L142.83 296.04 L141.76 296.07 L140.67 296.11 L139.56 296.15 L138.41 296.20 L137.24 296.25 L136.04 296.31 L134.82 296.37 L133.58 296.44 L132.35 296.53 L131.11 296.63 L129.89 296.76 L128.67 296.89 L127.44 297.04 L126.20 297.20 L124.97 297.38 L123.74 297.57 L122.52 297.79 L121.33 298.02 L120.16 298.28 L119.03 298.55 L117.91 298.84 L116.81 299.15 L115.73 299.48 L114.67 299.83 L113.62 300.21 L112.59 300.61 L111.58 301.04 L110.58 301.50 L109.61 301.98 L108.65 302.49 L107.72 303.03 L106.80 303.58 L105.91 304.15 L105.04 304.74 L104.18 305.35 L103.35 305.98 L102.53 306.62 L101.73 307.29 L100.95 307.97 L100.19 308.67 L99.45 309.40 L98.72 310.14 L98.02 310.90 L97.33 311.69 L96.67 312.50 L96.03 313.33 L95.41 314.18 L94.82 315.04 L94.25 315.91 L93.69 316.78 L93.14 317.66 L92.61 318.54 L92.11 319.41 L91.62 320.29 L91.14 321.18 L90.67 322.08 L90.21 323.02 L89.74 323.99 L89.27 325.00 L88.79 326.01 L88.31 327.02 L87.83 328.05 L87.34 329.13 L86.86 330.27 L86.38 331.51 L85.90 332.87 L85.42 334.36 L84.94 336.05 L84.45 337.94 L83.95 339.98 L83.43 342.07 L82.94 344.18 L82.47 346.22 L82.04 348.13 L81.67 349.84 L81.35 351.35 L81.08 352.71 L80.84 353.97 L80.64 355.15 L80.46 356.30 L80.29 357.45 L80.13 358.64 L79.96 359.90 L79.79 361.24 L79.63 362.60 L79.48 363.98 L79.35 365.37 L79.22 366.76 L79.09 368.16 L78.97 369.55 L78.85 370.94 L78.73 372.39 L78.61 373.95 L78.49 375.55 L78.38 377.14 L78.28 378.63 L78.19 379.97 L78.11 381.10 L78.05 381.95 Z" fill="#00ffff"/>
</g>
<g clip-path="url(#cBR)">
<path d="M440.50 292.05 L440.57 293.46 L440.66 295.35 L440.76 297.61 L440.88 300.11 L441.01 302.73 L441.14 305.34 L441.27 307.83 L441.40 310.06 L441.53 312.08 L441.66 314.03 L441.79 315.92 L441.92 317.76 L442.06 319.58 L442.20 321.40 L442.35 323.23 L442.50 325.08 L442.66 326.92 L442.80 328.72 L442.95 330.49 L443.10 332.28 L443.27 334.10 L443.46 336.00 L443.67 337.99 L443.91 340.12 L444.19 342.45 L444.52 345.01 L444.87 347.71 L445.25 350.45 L445.62 353.15 L445.98 355.73 L446.32 358.09 L446.61 360.14 L446.84 361.80 L447.02 363.10 L447.17 364.18 L447.30 365.15 L447.46 366.12 L447.64 367.21 L447.89 368.53 L448.22 370.19 L448.61 372.26 L449.06 374.64 L449.56 377.25 L450.09 379.98 L450.66 382.74 L451.25 385.45 L451.85 388.01 L452.45 390.33 L453.04 392.42 L453.66 394.38 L454.28 396.23 L454.92 398.00 L455.58 399.70 L456.26 401.35 L456.96 402.97 L457.69 404.57 L458.44 406.16 L459.22 407.70 L460.01 409.20 L460.83 410.65 L461.67 412.07 L462.53 413.45 L463.41 414.81 L464.31 416.14 L465.24 417.45 L466.20 418.73 L467.18 419.99 L468.18 421.21 L469.20 422.40 L470.23 423.55 L471.27 424.65 L472.32 425.71 L473.36 426.71 L474.39 427.64 L475.42 428.53 L476.47 429.39 L477.56 430.21 L478.68 431.03 L479.88 431.84 L481.15 432.65 L482.50 433.49 L483.91 434.32 L485.39 435.16 L486.91 435.98 L488.48 436.79 L490.09 437.58 L491.72 438.34 L493.37 439.07 L495.06 439.77 L496.80 440.44 L498.57 441.09 L500.36 441.71 L502.17 442.31 L503.98 442.88 L505.78 443.42 L507.56 443.94 L509.32 444.43 L511.06 444.88 L512.79 445.31 L514.52 445.72 L516.27 446.10 L518.04 446.47 L519.85 446.83 L521.71 447.17 L523.63 447.51 L525.58 447.84 L527.57 448.15 L529.59 448.45 L531.63 448.73 L533.68 449.00 L535.75 449.25 L537.82 449.49 L539.89 449.71 L541.96 449.92 L544.03 450.11 L546.12 450.28 L548.24 450.45 L550.40 450.60 L552.62 450.75 L554.90 450.90 L557.26 451.04 L559.70 451.18 L562.20 451.32 L564.74 451.45 L567.30 451.56 L569.87 451.66 L572.44 451.74 L574.97 451.80 L577.48 451.84 L579.99 451.86 L582.50 451.86 L585.01 451.85 L587.53 451.82 L590.04 451.77 L592.55 451.69 L595.07 451.60 L597.65 451.47 L600.34 451.31 L603.05 451.13 L605.75 450.93 L608.37 450.71 L610.85 450.50 L613.13 450.29 L615.16 450.09 L616.90 449.91 L618.38 449.74 L619.66 449.57 L620.81 449.40 L621.89 449.22 L622.96 449.03 L624.07 448.81 L625.31 448.57 L626.69 448.29 L628.14 447.97 L629.63 447.63 L631.12 447.28 L632.58 446.93 L633.97 446.58 L635.26 446.25 L636.41 445.95 L637.41 445.68 L638.28 445.44 L639.07 445.21 L639.79 445.00 L640.48 444.77 L641.16 444.53 L641.86 444.27 L642.60 443.98 L643.37 443.67 L644.15 443.33 L644.92 442.98 L645.70 442.62 L646.47 442.23 L647.24 441.84 L648.02 441.42 L648.79 440.99 L649.55 440.55 L650.30 440.11 L651.06 439.65 L651.81 439.17 L652.57 438.67 L653.35 438.14 L654.14 437.58 L654.95 436.99 L655.78 436.38 L656.66 435.73 L657.58 435.05 L658.52 434.33 L659.47 433.58 L660.39 432.78 L661.28 431.94 L662.11 431.05 L662.86 430.12 L663.56 429.15 L664.20 428.16 L664.80 427.16 L665.36 426.16 L665.89 425.17 L666.41 424.20 L666.91 423.26 L667.39 422.39 L667.84 421.58 L668.28 420.77 L668.72 419.93 L669.16 419.03 L669.60 418.01 L670.05 416.85 L670.52 415.51 L671.01 413.97 L671.54 412.26 L672.07 410.40 L672.61 408.45 L673.15 406.42 L673.66 404.37 L674.13 402.33 L674.57 400.32 L674.96 398.32 L675.31 396.28 L675.63 394.22 L675.93 392.16 L676.21 390.11 L676.48 388.09 L676.74 386.12 L676.99 384.21 L677.23 382.41 L677.46 380.71 L677.67 379.07 L677.88 377.44 L678.07 375.78 L678.25 374.03 L678.43 372.16 L678.60 370.12 L678.75 367.89 L678.90 365.51 L679.03 363.02 L679.15 360.45 L679.27 357.83 L679.38 355.21 L679.49 352.61 L679.60 350.07 L679.70 347.48 L679.80 344.78 L679.90 342.03 L679.99 339.30 L680.08 336.67 L680.16 334.21 L680.23 331.98 L680.30 330.06 L680.36 328.43 L680.41 327.03 L680.45 325.83 L680.49 324.81 L680.53 323.95 L680.55 323.22 L680.58 322.60 L680.60 322.06 L677.40 321.94 L677.38 322.47 L677.36 323.09 L677.33 323.82 L677.29 324.69 L677.26 325.71 L677.21 326.91 L677.16 328.31 L677.10 329.94 L677.03 331.87 L676.96 334.10 L676.88 336.57 L676.79 339.20 L676.70 341.92 L676.61 344.66 L676.51 347.36 L676.40 349.93 L676.29 352.47 L676.19 355.07 L676.07 357.69 L675.96 360.30 L675.83 362.86 L675.70 365.33 L675.56 367.68 L675.40 369.88 L675.24 371.88 L675.07 373.72 L674.89 375.43 L674.70 377.06 L674.50 378.66 L674.28 380.29 L674.06 381.98 L673.81 383.79 L673.56 385.70 L673.31 387.68 L673.04 389.68 L672.77 391.71 L672.47 393.75 L672.15 395.76 L671.81 397.74 L671.43 399.68 L671.01 401.62 L670.55 403.62 L670.05 405.63 L669.52 407.62 L668.99 409.53 L668.47 411.35 L667.96 413.01 L667.48 414.49 L667.04 415.74 L666.64 416.80 L666.24 417.70 L665.86 418.50 L665.46 419.26 L665.04 420.03 L664.59 420.84 L664.09 421.74 L663.58 422.70 L663.07 423.66 L662.55 424.62 L662.03 425.56 L661.48 426.47 L660.92 427.35 L660.32 428.18 L659.69 428.95 L659.01 429.68 L658.24 430.41 L657.42 431.12 L656.55 431.82 L655.66 432.49 L654.77 433.15 L653.89 433.80 L653.05 434.41 L652.27 434.98 L651.52 435.51 L650.79 436.01 L650.08 436.48 L649.36 436.93 L648.65 437.37 L647.94 437.79 L647.21 438.21 L646.48 438.61 L645.76 439.00 L645.03 439.38 L644.30 439.73 L643.58 440.08 L642.85 440.41 L642.13 440.72 L641.40 441.02 L640.71 441.29 L640.07 441.52 L639.46 441.74 L638.83 441.94 L638.16 442.15 L637.42 442.36 L636.57 442.59 L635.59 442.85 L634.46 443.15 L633.19 443.48 L631.81 443.82 L630.38 444.17 L628.91 444.52 L627.45 444.85 L626.03 445.16 L624.69 445.43 L623.47 445.67 L622.37 445.88 L621.34 446.07 L620.31 446.24 L619.22 446.40 L617.98 446.56 L616.55 446.73 L614.84 446.91 L612.83 447.10 L610.56 447.31 L608.10 447.53 L605.50 447.74 L602.83 447.94 L600.13 448.12 L597.48 448.28 L594.93 448.40 L592.45 448.50 L589.96 448.57 L587.47 448.62 L584.99 448.65 L582.50 448.66 L580.01 448.66 L577.52 448.64 L575.03 448.60 L572.52 448.54 L569.99 448.47 L567.44 448.37 L564.89 448.25 L562.36 448.12 L559.88 447.99 L557.45 447.85 L555.10 447.70 L552.83 447.56 L550.63 447.41 L548.48 447.26 L546.38 447.09 L544.31 446.92 L542.26 446.73 L540.22 446.53 L538.18 446.31 L536.13 446.07 L534.08 445.82 L532.05 445.56 L530.04 445.28 L528.05 444.99 L526.09 444.68 L524.17 444.36 L522.29 444.03 L520.46 443.68 L518.68 443.33 L516.94 442.97 L515.23 442.60 L513.54 442.20 L511.85 441.78 L510.15 441.34 L508.44 440.86 L506.69 440.35 L504.93 439.82 L503.15 439.26 L501.39 438.68 L499.64 438.07 L497.92 437.45 L496.25 436.80 L494.63 436.13 L493.04 435.43 L491.47 434.70 L489.92 433.94 L488.41 433.15 L486.94 432.36 L485.51 431.55 L484.15 430.75 L482.85 429.95 L481.64 429.16 L480.50 428.40 L479.43 427.65 L478.41 426.89 L477.43 426.11 L476.45 425.29 L475.47 424.42 L474.48 423.49 L473.47 422.50 L472.46 421.46 L471.46 420.38 L470.47 419.26 L469.49 418.11 L468.54 416.92 L467.60 415.70 L466.69 414.46 L465.80 413.20 L464.93 411.90 L464.07 410.58 L463.24 409.23 L462.43 407.85 L461.64 406.42 L460.87 404.95 L460.11 403.43 L459.38 401.87 L458.66 400.31 L457.97 398.72 L457.30 397.08 L456.65 395.38 L456.01 393.59 L455.38 391.70 L454.75 389.67 L454.13 387.43 L453.49 384.92 L452.86 382.26 L452.24 379.52 L451.65 376.82 L451.11 374.23 L450.61 371.86 L450.18 369.81 L449.86 368.15 L449.61 366.85 L449.43 365.79 L449.28 364.85 L449.15 363.91 L449.00 362.83 L448.82 361.52 L448.59 359.86 L448.30 357.80 L447.96 355.45 L447.60 352.87 L447.23 350.18 L446.86 347.44 L446.50 344.75 L446.18 342.21 L445.89 339.88 L445.65 337.78 L445.45 335.80 L445.26 333.91 L445.10 332.10 L444.94 330.32 L444.80 328.55 L444.65 326.76 L444.50 324.92 L444.34 323.06 L444.20 321.24 L444.05 319.43 L443.92 317.61 L443.78 315.77 L443.65 313.89 L443.52 311.95 L443.40 309.94 L443.27 307.72 L443.14 305.24 L443.01 302.63 L442.88 300.01 L442.76 297.52 L442.66 295.26 L442.57 293.36 L442.50 291.95 Z" fill="#008000" fill-opacity="0.45"/>
<path d="M440.75 292.04 L440.82 293.44 L440.91 295.34 L441.01 297.60 L441.13 300.10 L441.26 302.72 L441.39 305.33 L441.52 307.81 L441.65 310.04 L441.78 312.07 L441.91 314.01 L442.04 315.90 L442.17 317.74 L442.31 319.56 L442.45 321.38 L442.60 323.21 L442.75 325.06 L442.90 326.90 L443.05 328.69 L443.20 330.47 L443.35 332.25 L443.52 334.08 L443.71 335.97 L443.92 337.97 L444.16 340.09 L444.44 342.42 L444.77 344.98 L445.12 347.67 L445.49 350.41 L445.87 353.12 L446.23 355.69 L446.56 358.05 L446.86 360.11 L447.09 361.76 L447.27 363.07 L447.41 364.15 L447.55 365.11 L447.70 366.08 L447.89 367.16 L448.14 368.48 L448.46 370.15 L448.85 372.21 L449.30 374.59 L449.80 377.20 L450.34 379.93 L450.91 382.69 L451.49 385.39 L452.09 387.95 L452.69 390.26 L453.28 392.34 L453.89 394.30 L454.52 396.15 L455.16 397.91 L455.81 399.61 L456.49 401.25 L457.19 402.86 L457.91 404.47 L458.66 406.05 L459.44 407.59 L460.23 409.08 L461.05 410.53 L461.88 411.94 L462.74 413.32 L463.62 414.67 L464.52 415.99 L465.44 417.30 L466.40 418.58 L467.37 419.83 L468.37 421.05 L469.39 422.23 L470.41 423.38 L471.45 424.48 L472.50 425.53 L473.53 426.52 L474.56 427.46 L475.58 428.34 L476.63 429.19 L477.70 430.01 L478.83 430.82 L480.01 431.63 L481.28 432.44 L482.63 433.27 L484.04 434.11 L485.51 434.94 L487.03 435.76 L488.60 436.57 L490.20 437.36 L491.82 438.12 L493.47 438.84 L495.15 439.54 L496.88 440.21 L498.65 440.85 L500.44 441.47 L502.25 442.07 L504.05 442.64 L505.85 443.18 L507.63 443.70 L509.38 444.19 L511.12 444.64 L512.85 445.07 L514.58 445.47 L516.32 445.86 L518.09 446.22 L519.90 446.58 L521.76 446.93 L523.67 447.27 L525.62 447.59 L527.61 447.90 L529.62 448.20 L531.66 448.48 L533.71 448.75 L535.78 449.00 L537.85 449.24 L539.92 449.46 L541.98 449.67 L544.05 449.86 L546.14 450.03 L548.26 450.20 L550.42 450.35 L552.64 450.50 L554.92 450.65 L557.28 450.79 L559.71 450.93 L562.21 451.07 L564.75 451.20 L567.31 451.31 L569.88 451.41 L572.44 451.49 L574.98 451.55 L577.48 451.59 L579.99 451.61 L582.50 451.61 L585.01 451.60 L587.52 451.57 L590.03 451.52 L592.55 451.44 L595.06 451.35 L597.64 451.22 L600.32 451.06 L603.04 450.88 L605.73 450.68 L608.35 450.46 L610.82 450.25 L613.11 450.04 L615.14 449.84 L616.87 449.66 L618.34 449.49 L619.62 449.32 L620.77 449.15 L621.85 448.97 L622.91 448.78 L624.03 448.57 L625.26 448.32 L626.64 448.04 L628.09 447.73 L629.58 447.39 L631.07 447.04 L632.52 446.68 L633.91 446.34 L635.20 446.01 L636.34 445.71 L637.34 445.44 L638.22 445.20 L639.00 444.98 L639.72 444.76 L640.40 444.53 L641.08 444.30 L641.77 444.04 L642.50 443.75 L643.27 443.44 L644.05 443.10 L644.82 442.75 L645.59 442.39 L646.36 442.01 L647.13 441.61 L647.90 441.20 L648.66 440.78 L649.42 440.34 L650.18 439.89 L650.92 439.44 L651.68 438.96 L652.44 438.46 L653.21 437.93 L654.00 437.38 L654.80 436.79 L655.63 436.18 L656.51 435.53 L657.43 434.85 L658.37 434.14 L659.31 433.39 L660.22 432.59 L661.10 431.76 L661.92 430.89 L662.66 429.97 L663.35 429.01 L663.99 428.03 L664.58 427.04 L665.14 426.04 L665.67 425.05 L666.19 424.08 L666.69 423.14 L667.17 422.27 L667.62 421.45 L668.06 420.65 L668.49 419.82 L668.93 418.92 L669.36 417.91 L669.81 416.76 L670.28 415.43 L670.78 413.89 L671.30 412.19 L671.83 410.34 L672.37 408.38 L672.90 406.36 L673.41 404.31 L673.89 402.27 L674.32 400.27 L674.71 398.28 L675.06 396.24 L675.39 394.19 L675.69 392.13 L675.97 390.08 L676.23 388.06 L676.49 386.09 L676.74 384.18 L676.98 382.38 L677.21 380.68 L677.42 379.04 L677.63 377.41 L677.82 375.75 L678.00 374.01 L678.18 372.14 L678.35 370.10 L678.50 367.88 L678.65 365.50 L678.78 363.01 L678.90 360.44 L679.02 357.82 L679.13 355.20 L679.24 352.60 L679.35 350.06 L679.45 347.47 L679.55 344.77 L679.65 342.02 L679.74 339.29 L679.83 336.67 L679.91 334.20 L679.98 331.97 L680.05 330.05 L680.11 328.42 L680.16 327.02 L680.20 325.82 L680.24 324.80 L680.28 323.94 L680.30 323.21 L680.33 322.59 L680.35 322.05 L677.65 321.95 L677.63 322.48 L677.61 323.10 L677.58 323.83 L677.54 324.70 L677.51 325.72 L677.46 326.92 L677.41 328.32 L677.35 329.95 L677.28 331.88 L677.21 334.11 L677.13 336.58 L677.04 339.21 L676.95 341.93 L676.86 344.67 L676.76 347.37 L676.65 349.94 L676.54 352.48 L676.44 355.08 L676.32 357.70 L676.21 360.31 L676.08 362.87 L675.95 365.35 L675.81 367.70 L675.65 369.90 L675.49 371.91 L675.32 373.74 L675.14 375.45 L674.95 377.09 L674.75 378.70 L674.53 380.32 L674.30 382.02 L674.06 383.82 L673.81 385.74 L673.56 387.71 L673.29 389.72 L673.01 391.75 L672.72 393.78 L672.40 395.80 L672.05 397.79 L671.68 399.73 L671.26 401.68 L670.79 403.68 L670.29 405.69 L669.77 407.68 L669.23 409.60 L668.71 411.42 L668.20 413.09 L667.72 414.57 L667.28 415.83 L666.87 416.89 L666.47 417.80 L666.08 418.61 L665.68 419.38 L665.26 420.15 L664.81 420.96 L664.31 421.86 L663.80 422.82 L663.29 423.78 L662.77 424.74 L662.24 425.69 L661.70 426.61 L661.12 427.49 L660.52 428.33 L659.88 429.11 L659.18 429.86 L658.41 430.59 L657.58 431.31 L656.70 432.01 L655.81 432.69 L654.92 433.36 L654.04 434.00 L653.20 434.61 L652.42 435.18 L651.67 435.72 L650.93 436.22 L650.21 436.69 L649.50 437.14 L648.78 437.58 L648.06 438.01 L647.34 438.42 L646.60 438.83 L645.87 439.22 L645.14 439.60 L644.41 439.96 L643.68 440.30 L642.95 440.63 L642.23 440.95 L641.50 441.25 L640.80 441.52 L640.16 441.76 L639.54 441.98 L638.91 442.18 L638.23 442.39 L637.49 442.60 L636.64 442.83 L635.66 443.09 L634.52 443.39 L633.25 443.72 L631.87 444.06 L630.43 444.41 L628.97 444.76 L627.50 445.09 L626.08 445.40 L624.74 445.68 L623.51 445.91 L622.42 446.13 L621.38 446.31 L620.35 446.49 L619.25 446.65 L618.01 446.81 L616.57 446.98 L614.86 447.16 L612.85 447.35 L610.58 447.56 L608.12 447.77 L605.52 447.99 L602.84 448.19 L600.15 448.37 L597.50 448.53 L594.94 448.65 L592.45 448.75 L589.97 448.82 L587.48 448.87 L584.99 448.90 L582.50 448.91 L580.01 448.91 L577.52 448.89 L575.02 448.85 L572.52 448.79 L569.98 448.71 L567.42 448.62 L564.88 448.50 L562.35 448.37 L559.87 448.24 L557.44 448.10 L555.08 447.95 L552.81 447.81 L550.61 447.66 L548.46 447.50 L546.36 447.34 L544.29 447.17 L542.24 446.98 L540.20 446.78 L538.15 446.56 L536.10 446.32 L534.05 446.07 L532.02 445.80 L530.00 445.53 L528.01 445.23 L526.05 444.93 L524.13 444.61 L522.24 444.27 L520.41 443.93 L518.63 443.58 L516.89 443.22 L515.17 442.84 L513.48 442.44 L511.79 442.03 L510.09 441.58 L508.37 441.10 L506.62 440.59 L504.85 440.06 L503.08 439.50 L501.31 438.91 L499.56 438.31 L497.83 437.68 L496.16 437.03 L494.53 436.36 L492.94 435.66 L491.36 434.92 L489.81 434.16 L488.29 433.38 L486.82 432.58 L485.39 431.77 L484.02 430.96 L482.72 430.16 L481.50 429.37 L480.36 428.61 L479.29 427.85 L478.26 427.09 L477.27 426.30 L476.29 425.48 L475.30 424.61 L474.30 423.67 L473.29 422.68 L472.28 421.63 L471.27 420.55 L470.28 419.43 L469.30 418.27 L468.34 417.07 L467.40 415.85 L466.48 414.61 L465.59 413.34 L464.72 412.04 L463.86 410.72 L463.03 409.36 L462.21 407.97 L461.42 406.54 L460.64 405.06 L459.89 403.53 L459.15 401.98 L458.43 400.41 L457.74 398.82 L457.07 397.17 L456.41 395.47 L455.77 393.67 L455.14 391.77 L454.51 389.74 L453.89 387.49 L453.25 384.98 L452.62 382.31 L452.00 379.57 L451.41 376.87 L450.86 374.28 L450.37 371.91 L449.94 369.85 L449.61 368.20 L449.37 366.90 L449.18 365.83 L449.04 364.89 L448.90 363.94 L448.75 362.87 L448.58 361.56 L448.34 359.89 L448.05 357.84 L447.71 355.48 L447.35 352.91 L446.98 350.21 L446.61 347.47 L446.25 344.79 L445.93 342.24 L445.64 339.91 L445.41 337.80 L445.20 335.82 L445.01 333.94 L444.85 332.12 L444.69 330.34 L444.55 328.57 L444.40 326.78 L444.25 324.94 L444.09 323.08 L443.95 321.26 L443.80 319.45 L443.67 317.63 L443.53 315.79 L443.40 313.91 L443.27 311.97 L443.15 309.96 L443.02 307.73 L442.89 305.25 L442.76 302.64 L442.63 300.03 L442.51 297.53 L442.41 295.27 L442.32 293.37 L442.25 291.96 Z" fill="#00ffff"/>
</g>
<line x1="75.30" y1="186.65" x2="75.30" y2="189.78" stroke="#000" stroke-width="1.15"/>
<text transform="translate(75.30 204.85) scale(1.050 1)" font-size="15.00" text-anchor="middle" >0.0</text>
<line x1="104.64" y1="186.65" x2="104.64" y2="189.78" stroke="#000" stroke-width="1.15"/>
<text transform="translate(104.64 204.85) scale(1.050 1)" font-size="15.00" text-anchor="middle" >0.1</text>
<line x1="133.98" y1="186.65" x2="133.98" y2="189.78" stroke="#000" stroke-width="1.15"/>
<text transform="translate(133.98 204.85) scale(1.050 1)" font-size="15.00" text-anchor="middle" >0.2</text>
<line x1="163.32" y1="186.65" x2="163.32" y2="189.78" stroke="#000" stroke-width="1.15"/>
<text transform="translate(163.32 204.85) scale(1.050 1)" font-size="15.00" text-anchor="middle" >0.3</text>
<line x1="192.66" y1="186.65" x2="192.66" y2="189.78" stroke="#000" stroke-width="1.15"/>
<text transform="translate(192.66 204.85) scale(1.050 1)" font-size="15.00" text-anchor="middle" >0.4</text>
<line x1="222.00" y1="186.65" x2="222.00" y2="189.78" stroke="#000" stroke-width="1.15"/>
<text transform="translate(222.00 204.85) scale(1.050 1)" font-size="15.00" text-anchor="middle" >0.5</text>
<line x1="251.34" y1="186.65" x2="251.34" y2="189.78" stroke="#000" stroke-width="1.15"/>
<text transform="translate(251.34 204.85) scale(1.050 1)" font-size="15.00" text-anchor="middle" >0.6</text>
<line x1="280.68" y1="186.65" x2="280.68" y2="189.78" stroke="#000" stroke-width="1.15"/>
<text transform="translate(280.68 204.85) scale(1.050 1)" font-size="15.00" text-anchor="middle" >0.7</text>
<line x1="310.02" y1="186.65" x2="310.02" y2="189.78" stroke="#000" stroke-width="1.15"/>
<text transform="translate(310.02 204.85) scale(1.050 1)" font-size="15.00" text-anchor="middle" >0.8</text>
<line x1="68.88" y1="186.40" x2="72.00" y2="186.40" stroke="#000" stroke-width="1.15"/>
<text transform="translate(66.80 192.50) scale(1.040 1)" font-size="15.00" text-anchor="end" >0.000</text>
<line x1="68.88" y1="157.65" x2="72.00" y2="157.65" stroke="#000" stroke-width="1.15"/>
<text transform="translate(66.80 163.75) scale(1.040 1)" font-size="15.00" text-anchor="end" >0.005</text>
<line x1="68.88" y1="128.90" x2="72.00" y2="128.90" stroke="#000" stroke-width="1.15"/>
<text transform="translate(66.80 135.00) scale(1.040 1)" font-size="15.00" text-anchor="end" >0.010</text>
<line x1="68.88" y1="100.15" x2="72.00" y2="100.15" stroke="#000" stroke-width="1.15"/>
<text transform="translate(66.80 106.25) scale(1.040 1)" font-size="15.00" text-anchor="end" >0.015</text>
<line x1="68.88" y1="71.40" x2="72.00" y2="71.40" stroke="#000" stroke-width="1.15"/>
<text transform="translate(66.80 77.50) scale(1.040 1)" font-size="15.00" text-anchor="end" >0.020</text>
<line x1="68.88" y1="42.65" x2="72.00" y2="42.65" stroke="#000" stroke-width="1.15"/>
<text transform="translate(66.80 48.75) scale(1.040 1)" font-size="15.00" text-anchor="end" >0.025</text>
<line x1="68.88" y1="13.90" x2="72.00" y2="13.90" stroke="#000" stroke-width="1.15"/>
<text transform="translate(66.80 20.00) scale(1.040 1)" font-size="15.00" text-anchor="end" >0.030</text>
<rect x="72.00" y="1.00" width="240.40" height="185.65" fill="none" stroke="#000" stroke-width="1.35"/>
<line x1="455.90" y1="187.45" x2="455.90" y2="190.57" stroke="#000" stroke-width="1.15"/>
<text transform="translate(455.90 205.65) scale(1.050 1)" font-size="15.00" text-anchor="middle" >0.1</text>
<line x1="486.89" y1="187.45" x2="486.89" y2="190.57" stroke="#000" stroke-width="1.15"/>
<text transform="translate(486.89 205.65) scale(1.050 1)" font-size="15.00" text-anchor="middle" >0.2</text>
<line x1="517.88" y1="187.45" x2="517.88" y2="190.57" stroke="#000" stroke-width="1.15"/>
<text transform="translate(517.88 205.65) scale(1.050 1)" font-size="15.00" text-anchor="middle" >0.3</text>
<line x1="548.87" y1="187.45" x2="548.87" y2="190.57" stroke="#000" stroke-width="1.15"/>
<text transform="translate(548.87 205.65) scale(1.050 1)" font-size="15.00" text-anchor="middle" >0.4</text>
<line x1="579.86" y1="187.45" x2="579.86" y2="190.57" stroke="#000" stroke-width="1.15"/>
<text transform="translate(579.86 205.65) scale(1.050 1)" font-size="15.00" text-anchor="middle" >0.5</text>
<line x1="610.85" y1="187.45" x2="610.85" y2="190.57" stroke="#000" stroke-width="1.15"/>
<text transform="translate(610.85 205.65) scale(1.050 1)" font-size="15.00" text-anchor="middle" >0.6</text>
<line x1="641.84" y1="187.45" x2="641.84" y2="190.57" stroke="#000" stroke-width="1.15"/>
<text transform="translate(641.84 205.65) scale(1.050 1)" font-size="15.00" text-anchor="middle" >0.7</text>
<line x1="672.83" y1="187.45" x2="672.83" y2="190.57" stroke="#000" stroke-width="1.15"/>
<text transform="translate(672.83 205.65) scale(1.050 1)" font-size="15.00" text-anchor="middle" >0.8</text>
<line x1="424.93" y1="13.50" x2="428.05" y2="13.50" stroke="#000" stroke-width="1.15"/>
<text transform="translate(422.85 19.60) scale(1.040 1)" font-size="15.00" text-anchor="end" >0.5</text>
<line x1="424.93" y1="39.72" x2="428.05" y2="39.72" stroke="#000" stroke-width="1.15"/>
<text transform="translate(422.85 45.82) scale(1.040 1)" font-size="15.00" text-anchor="end" >0.4</text>
<line x1="424.93" y1="65.94" x2="428.05" y2="65.94" stroke="#000" stroke-width="1.15"/>
<text transform="translate(422.85 72.04) scale(1.040 1)" font-size="15.00" text-anchor="end" >0.3</text>
<line x1="424.93" y1="92.16" x2="428.05" y2="92.16" stroke="#000" stroke-width="1.15"/>
<text transform="translate(422.85 98.26) scale(1.040 1)" font-size="15.00" text-anchor="end" >0.2</text>
<line x1="424.93" y1="118.38" x2="428.05" y2="118.38" stroke="#000" stroke-width="1.15"/>
<text transform="translate(422.85 124.48) scale(1.040 1)" font-size="15.00" text-anchor="end" >0.1</text>
<line x1="424.93" y1="144.60" x2="428.05" y2="144.60" stroke="#000" stroke-width="1.15"/>
<text transform="translate(422.85 150.70) scale(1.040 1)" font-size="15.00" text-anchor="end" >0.0</text>
<line x1="424.93" y1="170.82" x2="428.05" y2="170.82" stroke="#000" stroke-width="1.15"/>
<text transform="translate(422.85 176.92) scale(1.040 1)" font-size="15.00" text-anchor="end" >−0.1</text>
<rect x="428.05" y="1.00" width="251.05" height="186.45" fill="none" stroke="#000" stroke-width="1.35"/>
<line x1="104.60" y1="454.40" x2="104.60" y2="457.52" stroke="#000" stroke-width="1.15"/>
<text transform="translate(104.60 472.60) scale(1.050 1)" font-size="15.00" text-anchor="middle" >0.1</text>
<line x1="133.46" y1="454.40" x2="133.46" y2="457.52" stroke="#000" stroke-width="1.15"/>
<text transform="translate(133.46 472.60) scale(1.050 1)" font-size="15.00" text-anchor="middle" >0.2</text>
<line x1="162.32" y1="454.40" x2="162.32" y2="457.52" stroke="#000" stroke-width="1.15"/>
<text transform="translate(162.32 472.60) scale(1.050 1)" font-size="15.00" text-anchor="middle" >0.3</text>
<line x1="191.18" y1="454.40" x2="191.18" y2="457.52" stroke="#000" stroke-width="1.15"/>
<text transform="translate(191.18 472.60) scale(1.050 1)" font-size="15.00" text-anchor="middle" >0.4</text>
<line x1="220.04" y1="454.40" x2="220.04" y2="457.52" stroke="#000" stroke-width="1.15"/>
<text transform="translate(220.04 472.60) scale(1.050 1)" font-size="15.00" text-anchor="middle" >0.5</text>
<line x1="248.90" y1="454.40" x2="248.90" y2="457.52" stroke="#000" stroke-width="1.15"/>
<text transform="translate(248.90 472.60) scale(1.050 1)" font-size="15.00" text-anchor="middle" >0.6</text>
<line x1="277.76" y1="454.40" x2="277.76" y2="457.52" stroke="#000" stroke-width="1.15"/>
<text transform="translate(277.76 472.60) scale(1.050 1)" font-size="15.00" text-anchor="middle" >0.7</text>
<line x1="306.62" y1="454.40" x2="306.62" y2="457.52" stroke="#000" stroke-width="1.15"/>
<text transform="translate(306.62 472.60) scale(1.050 1)" font-size="15.00" text-anchor="middle" >0.8</text>
<line x1="75.53" y1="287.90" x2="78.65" y2="287.90" stroke="#000" stroke-width="1.15"/>
<text transform="translate(73.45 294.00) scale(1.040 1)" font-size="15.00" text-anchor="end" >0.75</text>
<line x1="75.53" y1="308.49" x2="78.65" y2="308.49" stroke="#000" stroke-width="1.15"/>
<text transform="translate(73.45 314.59) scale(1.040 1)" font-size="15.00" text-anchor="end" >0.50</text>
<line x1="75.53" y1="329.09" x2="78.65" y2="329.09" stroke="#000" stroke-width="1.15"/>
<text transform="translate(73.45 335.19) scale(1.040 1)" font-size="15.00" text-anchor="end" >0.25</text>
<line x1="75.53" y1="349.68" x2="78.65" y2="349.68" stroke="#000" stroke-width="1.15"/>
<text transform="translate(73.45 355.78) scale(1.040 1)" font-size="15.00" text-anchor="end" >0.00</text>
<line x1="75.53" y1="370.28" x2="78.65" y2="370.28" stroke="#000" stroke-width="1.15"/>
<text transform="translate(73.45 376.38) scale(1.040 1)" font-size="15.00" text-anchor="end" >−0.25</text>
<line x1="75.53" y1="390.87" x2="78.65" y2="390.87" stroke="#000" stroke-width="1.15"/>
<text transform="translate(73.45 396.97) scale(1.040 1)" font-size="15.00" text-anchor="end" >−0.50</text>
<line x1="75.53" y1="411.46" x2="78.65" y2="411.46" stroke="#000" stroke-width="1.15"/>
<text transform="translate(73.45 417.56) scale(1.040 1)" font-size="15.00" text-anchor="end" >−0.75</text>
<line x1="75.53" y1="432.06" x2="78.65" y2="432.06" stroke="#000" stroke-width="1.15"/>
<text transform="translate(73.45 438.16) scale(1.040 1)" font-size="15.00" text-anchor="end" >−1.00</text>
<line x1="75.53" y1="452.65" x2="78.65" y2="452.65" stroke="#000" stroke-width="1.15"/>
<text transform="translate(73.45 458.75) scale(1.040 1)" font-size="15.00" text-anchor="end" >−1.25</text>
<rect x="78.65" y="273.25" width="233.85" height="181.15" fill="none" stroke="#000" stroke-width="1.35"/>
<line x1="467.60" y1="458.95" x2="467.60" y2="462.07" stroke="#000" stroke-width="1.15"/>
<text transform="translate(467.60 477.15) scale(1.050 1)" font-size="15.00" text-anchor="middle" >0.1</text>
<line x1="496.97" y1="458.95" x2="496.97" y2="462.07" stroke="#000" stroke-width="1.15"/>
<text transform="translate(496.97 477.15) scale(1.050 1)" font-size="15.00" text-anchor="middle" >0.2</text>
<line x1="526.34" y1="458.95" x2="526.34" y2="462.07" stroke="#000" stroke-width="1.15"/>
<text transform="translate(526.34 477.15) scale(1.050 1)" font-size="15.00" text-anchor="middle" >0.3</text>
<line x1="555.71" y1="458.95" x2="555.71" y2="462.07" stroke="#000" stroke-width="1.15"/>
<text transform="translate(555.71 477.15) scale(1.050 1)" font-size="15.00" text-anchor="middle" >0.4</text>
<line x1="585.08" y1="458.95" x2="585.08" y2="462.07" stroke="#000" stroke-width="1.15"/>
<text transform="translate(585.08 477.15) scale(1.050 1)" font-size="15.00" text-anchor="middle" >0.5</text>
<line x1="614.45" y1="458.95" x2="614.45" y2="462.07" stroke="#000" stroke-width="1.15"/>
<text transform="translate(614.45 477.15) scale(1.050 1)" font-size="15.00" text-anchor="middle" >0.6</text>
<line x1="643.82" y1="458.95" x2="643.82" y2="462.07" stroke="#000" stroke-width="1.15"/>
<text transform="translate(643.82 477.15) scale(1.050 1)" font-size="15.00" text-anchor="middle" >0.7</text>
<line x1="673.19" y1="458.95" x2="673.19" y2="462.07" stroke="#000" stroke-width="1.15"/>
<text transform="translate(673.19 477.15) scale(1.050 1)" font-size="15.00" text-anchor="middle" >0.8</text>
<line x1="438.27" y1="274.40" x2="441.40" y2="274.40" stroke="#000" stroke-width="1.15"/>
<text transform="translate(436.20 280.50) scale(1.040 1)" font-size="15.00" text-anchor="end" >0.05</text>
<line x1="438.27" y1="297.19" x2="441.40" y2="297.19" stroke="#000" stroke-width="1.15"/>
<text transform="translate(436.20 303.29) scale(1.040 1)" font-size="15.00" text-anchor="end" >0.00</text>
<line x1="438.27" y1="319.98" x2="441.40" y2="319.98" stroke="#000" stroke-width="1.15"/>
<text transform="translate(436.20 326.08) scale(1.040 1)" font-size="15.00" text-anchor="end" >−0.05</text>
<line x1="438.27" y1="342.77" x2="441.40" y2="342.77" stroke="#000" stroke-width="1.15"/>
<text transform="translate(436.20 348.87) scale(1.040 1)" font-size="15.00" text-anchor="end" >−0.10</text>
<line x1="438.27" y1="365.56" x2="441.40" y2="365.56" stroke="#000" stroke-width="1.15"/>
<text transform="translate(436.20 371.66) scale(1.040 1)" font-size="15.00" text-anchor="end" >−0.15</text>
<line x1="438.27" y1="388.35" x2="441.40" y2="388.35" stroke="#000" stroke-width="1.15"/>
<text transform="translate(436.20 394.45) scale(1.040 1)" font-size="15.00" text-anchor="end" >−0.20</text>
<line x1="438.27" y1="411.14" x2="441.40" y2="411.14" stroke="#000" stroke-width="1.15"/>
<text transform="translate(436.20 417.24) scale(1.040 1)" font-size="15.00" text-anchor="end" >−0.25</text>
<line x1="438.27" y1="433.93" x2="441.40" y2="433.93" stroke="#000" stroke-width="1.15"/>
<text transform="translate(436.20 440.03) scale(1.040 1)" font-size="15.00" text-anchor="end" >−0.30</text>
<line x1="438.27" y1="456.72" x2="441.40" y2="456.72" stroke="#000" stroke-width="1.15"/>
<text transform="translate(436.20 462.82) scale(1.040 1)" font-size="15.00" text-anchor="end" >−0.35</text>
<rect x="441.40" y="273.25" width="237.70" height="185.70" fill="none" stroke="#000" stroke-width="1.35"/>
<rect x="247.00" y="6.00" width="59.80" height="38.20" rx="2.2" ry="2.2" fill="#fff" fill-opacity="1" stroke="#ccc" stroke-opacity="0.9" stroke-width="0.8"/>
<rect x="251.30" y="11.30" width="24.6" height="9.4" fill="#008000"/>
<rect x="251.30" y="28.40" width="24.6" height="9.4" fill="#00ffff"/>
<text transform="translate(284.50 19.70) scale(1.050 1)" font-size="11.00" text-anchor="start" >SM</text>
<text transform="translate(284.50 36.80) scale(1.050 1)" font-size="11.00" text-anchor="start" >NP</text>
<rect x="613.65" y="6.00" width="59.80" height="38.20" rx="2.2" ry="2.2" fill="#fff" fill-opacity="1" stroke="#ccc" stroke-opacity="0.9" stroke-width="0.8"/>
<rect x="617.95" y="11.30" width="24.6" height="9.4" fill="#008000"/>
<rect x="617.95" y="28.40" width="24.6" height="9.4" fill="#00ffff"/>
<text transform="translate(651.15 19.70) scale(1.050 1)" font-size="11.00" text-anchor="start" >SM</text>
<text transform="translate(651.15 36.80) scale(1.050 1)" font-size="11.00" text-anchor="start" >NP</text>
<rect x="247.00" y="278.50" width="59.80" height="38.20" rx="2.2" ry="2.2" fill="#fff" fill-opacity="1" stroke="#ccc" stroke-opacity="0.9" stroke-width="0.8"/>
<rect x="251.30" y="283.80" width="24.6" height="9.4" fill="#008000"/>
<rect x="251.30" y="300.90" width="24.6" height="9.4" fill="#00ffff"/>
<text transform="translate(284.50 292.20) scale(1.050 1)" font-size="11.00" text-anchor="start" >SM</text>
<text transform="translate(284.50 309.30) scale(1.050 1)" font-size="11.00" text-anchor="start" >NP</text>
<rect x="613.65" y="278.50" width="59.80" height="38.20" rx="2.2" ry="2.2" fill="#fff" fill-opacity="1" stroke="#ccc" stroke-opacity="0.9" stroke-width="0.8"/>
<rect x="617.95" y="283.80" width="24.6" height="9.4" fill="#008000"/>
<rect x="617.95" y="300.90" width="24.6" height="9.4" fill="#00ffff"/>
<text transform="translate(651.15 292.20) scale(1.050 1)" font-size="11.00" text-anchor="start" >SM</text>
<text transform="translate(651.15 309.30) scale(1.050 1)" font-size="11.00" text-anchor="start" >NP</text>
<text transform="translate(191.80 224.40) scale(1.050 1)" font-size="15.00" text-anchor="middle"><tspan font-style="italic">q</tspan><tspan font-size="10.50" dy="-6.60">2</tspan><tspan dy="6.60"> [GeV</tspan><tspan font-size="10.50" dy="-6.60">2</tspan><tspan dy="6.60">]</tspan></text>
<text transform="translate(553.20 225.20) scale(1.050 1)" font-size="15.00" text-anchor="middle"><tspan font-style="italic">q</tspan><tspan font-size="10.50" dy="-6.60">2</tspan><tspan dy="6.60"> [GeV</tspan><tspan font-size="10.50" dy="-6.60">2</tspan><tspan dy="6.60">]</tspan></text>
<text transform="translate(195.10 492.40) scale(1.050 1)" font-size="15.00" text-anchor="middle"><tspan font-style="italic">q</tspan><tspan font-size="10.50" dy="-6.60">2</tspan><tspan dy="6.60"> [GeV</tspan><tspan font-size="10.50" dy="-6.60">2</tspan><tspan dy="6.60">]</tspan></text>
<text transform="translate(560.10 497.10) scale(1.050 1)" font-size="15.00" text-anchor="middle"><tspan font-style="italic">q</tspan><tspan font-size="10.50" dy="-6.60">2</tspan><tspan dy="6.60"> [GeV</tspan><tspan font-size="10.50" dy="-6.60">2</tspan><tspan dy="6.60">]</tspan></text>
<text transform="translate(14.00 92.10) rotate(-90) scale(1.023 1)" font-size="15.00" text-anchor="middle"><tspan font-style="italic">dB</tspan>/<tspan font-style="italic">dq</tspan><tspan font-size="10.50" dy="-6.60">2</tspan><tspan dy="6.60"> [GeV</tspan><tspan font-size="10.50" dy="-6.60">−2</tspan><tspan dy="6.60">]</tspan></text>
<text transform="translate(378.40 94.60) rotate(-90) scale(1.050 1)" font-size="15.00" text-anchor="middle"><tspan font-style="italic">A</tspan><tspan font-style="italic" font-size="10.50" dy="3.00">FB</tspan></text>
<text transform="translate(15.10 364.40) rotate(-90) scale(1.069 1)" font-size="15.00" text-anchor="middle"><tspan font-style="italic">A</tspan><tspan font-style="italic" font-size="10.50" dy="3.00">λ</tspan><tspan font-style="italic" font-size="7.50" dy="2.25">μ</tspan><tspan dy="-5.25">(</tspan><tspan font-style="italic">q</tspan><tspan font-size="10.50" dy="-6.60">2</tspan><tspan dy="6.60">)</tspan></text>
<text transform="translate(380.50 365.90) rotate(-90) scale(1.050 1)" font-size="15.00" text-anchor="middle"><tspan font-style="italic">A</tspan><tspan font-style="italic" font-size="10.50" dy="3.00">π</tspan><tspan font-size="10.50">/3</tspan><tspan dy="-3.00">(</tspan><tspan font-style="italic">q</tspan><tspan font-size="10.50" dy="-6.60">2</tspan><tspan dy="6.60">)</tspan></text>
</svg>
</body></html>
